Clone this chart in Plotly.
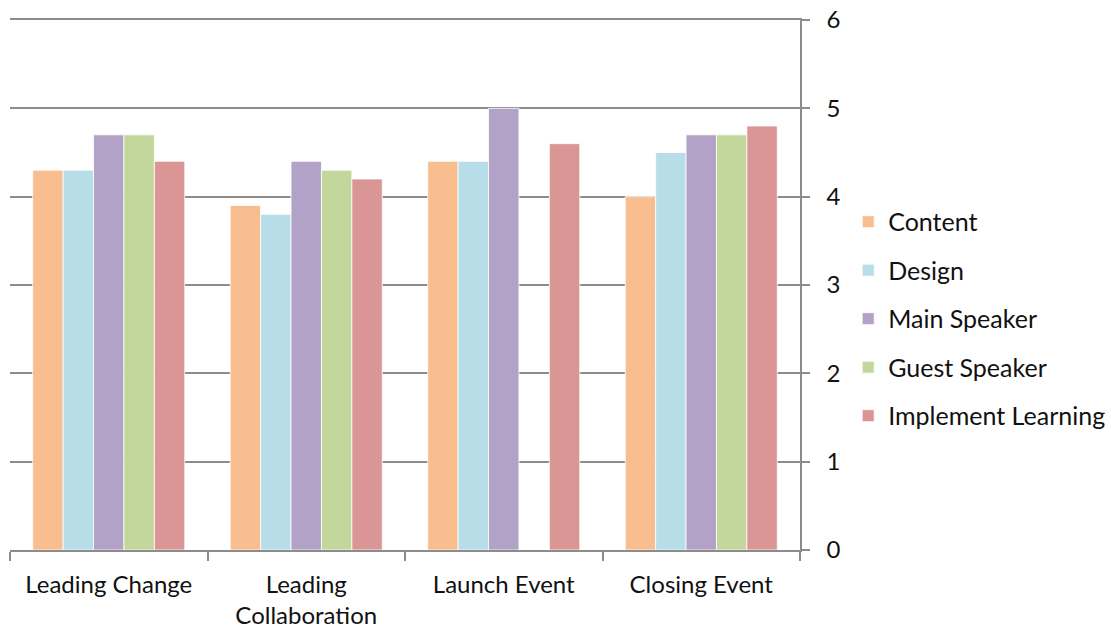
import plotly.graph_objects as go

categories = ["Leading Change", "Leading<br>Collaboration", "Launch Event", "Closing Event"]
series_names = ["Content", "Design", "Main Speaker", "Guest Speaker", "Implement Learning"]
content = [4.3, 3.9, 4.4, 4.0]
design = [4.3, 3.8, 4.4, 4.5]
main_speaker = [4.7, 4.4, 5.0, 4.7]
guest_speaker = [4.7, 4.3, None, 4.7]
implement_learning = [4.4, 4.2, 4.6, 4.8]
y_ticks = [0, 1, 2, 3, 4, 5, 6]

colors = ["#F9BE8F", "#B7DDE8", "#B3A2C7", "#C3D69B", "#D99694"]
values = [content, design, main_speaker, guest_speaker, implement_learning]

fig = go.Figure()
for name, vals, col in zip(series_names, values, colors):
    fig.add_trace(go.Bar(
        x=categories, y=vals, name=name, legendgroup=name,
        marker=dict(color=col, line=dict(color="rgba(255,255,255,0.8)", width=1)),
    ))

FONT = "Lato"
FS = 24
fig.update_layout(
    width=1111, height=630,
    margin=dict(l=10, r=311, t=20, b=80, autoexpand=False),
    paper_bgcolor="white", plot_bgcolor="white",
    barmode="group", bargap=0.23, bargroupgap=0,
    font=dict(family=FONT, size=FS, color="#111111"),
    showlegend=True,
    legend=dict(x=1.061, xanchor="left", y=0.436, yanchor="middle",
                xref="paper", yref="paper",
                font=dict(family=FONT, size=25, color="#111111"),
                tracegroupgap=13, itemwidth=30,
                bgcolor="rgba(0,0,0,0)"),
    xaxis=dict(showline=True, linecolor="#8c8c8c", linewidth=1.5, mirror=True,
               ticks="outside", ticklen=9, tickcolor="#8c8c8c", tickwidth=1.5,
               tickson="boundaries", showgrid=False, automargin=False,
               tickfont=dict(family=FONT, size=FS, color="#111111"),
               ticklabelstandoff=12),
    yaxis=dict(side="right", range=[0, 6], tickvals=y_ticks, automargin=False,
               showline=True, linecolor="#8c8c8c", linewidth=1.5,
               ticks="outside", ticklen=8, tickcolor="#8c8c8c", tickwidth=1.5,
               showgrid=True, gridcolor="#8c8c8c", gridwidth=1.5,
               zeroline=False,
               tickfont=dict(family=FONT, size=FS, color="#111111"),
               ticklabelstandoff=12),
    hovermode=False,
)

fig.write_html("out.html", config={"displayModeBar": False})
